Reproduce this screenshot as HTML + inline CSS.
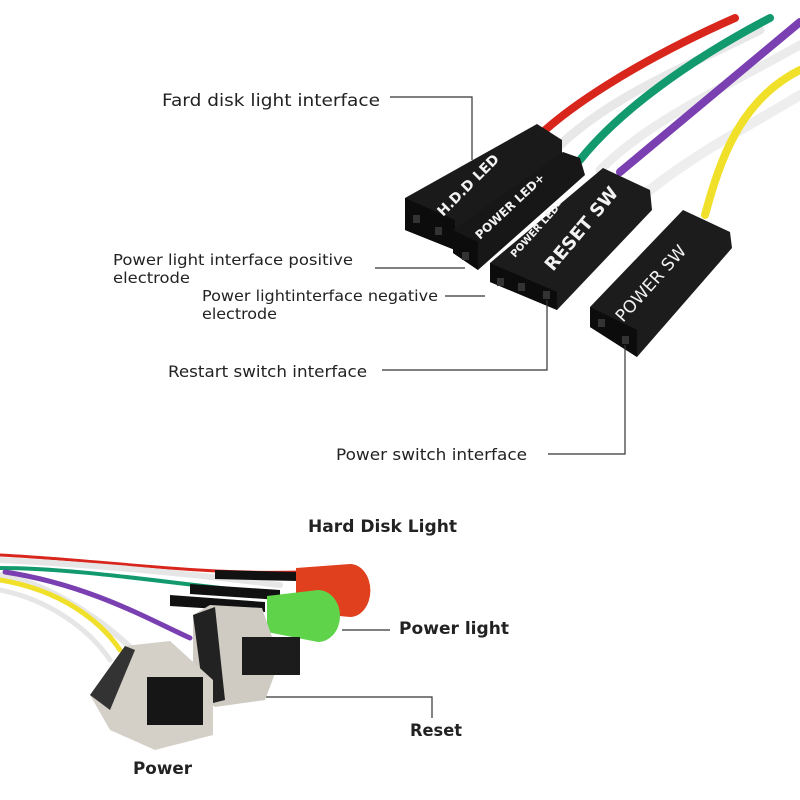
<!DOCTYPE html>
<html><head><meta charset="utf-8"><style>
html,body{margin:0;padding:0;background:#fff}
svg{display:block}
text{font-family:"DejaVu Sans","Liberation Sans",sans-serif;fill:#222}
.w{fill:#f2f2f2;font-weight:bold}
</style></head><body>
<svg width="800" height="800" viewBox="0 0 800 800" xmlns="http://www.w3.org/2000/svg">
<rect width="800" height="800" fill="#fff"/>
<g fill="none" stroke-linecap="round">
<path d="M525,150 C560,110 640,60 735,18" stroke="#d8261c" stroke-width="8"/>
<path d="M545,160 C600,100 680,70 760,30" stroke="#e8e8e8" stroke-width="9"/>
<path d="M580,160 C620,110 690,60 770,18" stroke="#129a6e" stroke-width="8"/>
<path d="M600,170 C650,120 720,90 800,45" stroke="#ececec" stroke-width="9"/>
<path d="M620,172 C670,130 730,80 800,22" stroke="#7a3fb0" stroke-width="8"/>
<path d="M650,190 C700,150 760,120 800,95" stroke="#eeeeee" stroke-width="10"/>
<path d="M705,215 C720,160 740,100 800,70" stroke="#f0e02a" stroke-width="8"/>
</g>
<g>
<polygon points="405,198 537,124 562,140 562,156 455,250 405,230" fill="#1a1a1a"/>
<polygon points="405,198 455,220 455,250 405,230" fill="#0c0c0c"/>
<text class="w" transform="translate(443,217) rotate(-45)" font-size="14">H.D.D LED</text>
<polygon points="453,230 563,152 580,158 585,175 478,270 453,253" fill="#171717"/>
<polygon points="453,230 478,242 478,270 453,253" fill="#0c0c0c"/>
<text class="w" transform="translate(480,240) rotate(-43)" font-size="12">POWER LED+</text>
<polygon points="490,263 603,168 650,190 652,210 557,310 490,282" fill="#1c1c1c"/>
<polygon points="490,263 557,292 557,310 490,282" fill="#0c0c0c"/>
<text class="w" transform="translate(515,258) rotate(-48)" font-size="10">POWER LED–</text>
<text class="w" transform="translate(553,272) rotate(-50)" font-size="18">RESET SW</text>
<polygon points="590,307 683,210 730,232 732,248 637,357 590,327" fill="#1c1c1c"/>
<polygon points="590,307 637,330 637,357 590,327" fill="#0c0c0c"/>
<text class="w" transform="translate(623,323) rotate(-48)" font-size="17" style="font-weight:normal">POWER SW</text>
<rect x="413" y="215" width="7" height="8" fill="#333"/>
<rect x="435" y="227" width="7" height="8" fill="#333"/>
<rect x="462" y="252" width="7" height="8" fill="#333"/>
<rect x="497" y="278" width="7" height="8" fill="#333"/>
<rect x="518" y="283" width="7" height="8" fill="#333"/>
<rect x="543" y="291" width="7" height="8" fill="#333"/>
<rect x="598" y="319" width="7" height="8" fill="#333"/>
<rect x="622" y="336" width="7" height="8" fill="#333"/>
</g>
<g stroke="#333" stroke-width="1.2" fill="none">
<polyline points="390,97 472,97 472,160"/>
<line x1="375" y1="268" x2="465" y2="268"/>
<line x1="445" y1="296" x2="485" y2="296"/>
<polyline points="382,370 547,370 547,300"/>
<polyline points="548,454 625,454 625,345"/>
<line x1="342" y1="630" x2="390" y2="630"/>
<polyline points="262,697 432,697 432,718"/>
</g>
<g>
<text x="162" y="106" font-size="17" textLength="218" lengthAdjust="spacingAndGlyphs">Fard disk light interface</text>
<text x="113" y="265" font-size="15" textLength="240" lengthAdjust="spacingAndGlyphs">Power light interface positive</text>
<text x="113" y="283" font-size="15" textLength="77" lengthAdjust="spacingAndGlyphs">electrode</text>
<text x="202" y="301" font-size="15" textLength="236" lengthAdjust="spacingAndGlyphs">Power lightinterface negative</text>
<text x="202" y="319" font-size="15" textLength="75" lengthAdjust="spacingAndGlyphs">electrode</text>
<text x="168" y="377" font-size="16" textLength="199" lengthAdjust="spacingAndGlyphs">Restart switch interface</text>
<text x="336" y="460" font-size="16" textLength="191" lengthAdjust="spacingAndGlyphs">Power switch interface</text>
</g>
<g fill="none" stroke-linecap="round">
<path d="M0,555 C100,560 200,575 300,572" stroke="#d8261c" stroke-width="3"/>
<path d="M0,560 C100,565 200,575 280,585" stroke="#e6e6e6" stroke-width="6"/>
<path d="M0,568 C80,568 180,585 260,592" stroke="#129a6e" stroke-width="4"/>
<path d="M0,575 C60,585 130,640 150,670" stroke="#e6e6e6" stroke-width="6"/>
<path d="M0,580 C60,590 100,620 120,650" stroke="#f0e02a" stroke-width="5"/>
<path d="M0,590 C50,600 90,630 110,660" stroke="#e6e6e6" stroke-width="5"/>
<path d="M5,572 C90,585 150,620 190,638" stroke="#7a3fb0" stroke-width="5"/>
</g>
<polygon points="215,570 297,572 297,581 215,579" fill="#111"/>
<polygon points="190,584 280,590 280,600 190,594" fill="#111"/>
<polygon points="170,595 265,602 265,612 170,606" fill="#111"/>
<path d="M296,568 L350,564 A20,26 0 0 1 350,617 L296,612 Z" fill="#e0401e"/>
<path d="M267,596 L318,590 A22,26 0 0 1 318,642 L267,632 Z" fill="#5fd34a"/>
<polygon points="193,615 210,605 262,608 280,660 265,700 215,707 193,690" fill="#cfcbc3"/>
<polygon points="193,615 215,607 225,700 205,705" fill="#222"/>
<rect x="242" y="637" width="58" height="38" fill="#1c1c1c"/>
<polygon points="90,695 125,646 170,641 213,680 213,735 155,750 110,730" fill="#d4d0c8"/>
<polygon points="90,695 125,646 135,650 110,710" fill="#333"/>
<rect x="147" y="677" width="56" height="48" fill="#161616"/>
<g font-weight="bold">
<text x="308" y="532" font-size="17" textLength="149" lengthAdjust="spacingAndGlyphs">Hard Disk Light</text>
<text x="399" y="634" font-size="17" textLength="110" lengthAdjust="spacingAndGlyphs">Power light</text>
<text x="410" y="736" font-size="17" textLength="52" lengthAdjust="spacingAndGlyphs">Reset</text>
<text x="133" y="774" font-size="17" textLength="59" lengthAdjust="spacingAndGlyphs">Power</text>
</g>
</svg>
</body></html>
